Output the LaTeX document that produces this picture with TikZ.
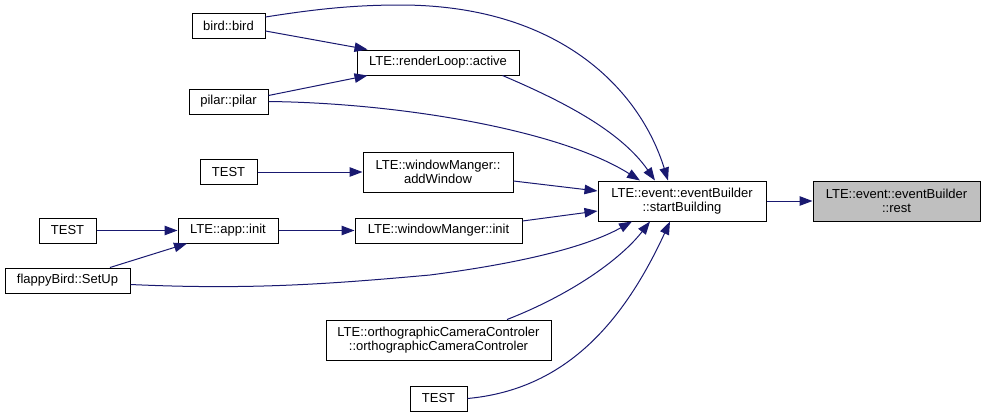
\documentclass[tikz,border=0pt]{standalone}
\usepackage{fontspec}
\setmainfont{Liberation Sans}
\usetikzlibrary{arrows.meta}
\definecolor{edgec}{HTML}{191970}
\definecolor{restc}{HTML}{BFBFBF}
\begin{document}
\begin{tikzpicture}[x=1pt,y=-1pt,
  box/.style={draw=black, line width=1pt, fill=white, inner sep=0pt,
    minimum height=25pt, font=\fontsize{13}{14}\selectfont, align=center},
  tall/.style={minimum height=40pt},
  edge/.style={draw=edgec, line width=1pt, -{Triangle[length=13pt,width=9.5pt]}}]
\useasboundingbox (0,0) rectangle (985,418);
% nodes
\node[box, minimum width=73pt] (bird) at (228.5,25.5) {bird::bird};
\node[box, minimum width=79pt] (pilar) at (228.5,101.5) {pilar::pilar};
\node[box, minimum width=162pt] (active) at (438,62.5) {LTE::renderLoop::active};
\node[box, minimum width=57pt] (testa) at (228.5,172) {TEST};
\node[box, tall, minimum width=150pt] (addw) at (438,172) {LTE::windowManger::\\addWindow};
\node[box, minimum width=57pt] (testb) at (67.5,230.5) {TEST};
\node[box, minimum width=100pt] (app) at (228,230.5) {LTE::app::init};
\node[box, minimum width=167pt] (wminit) at (438.5,230.5) {LTE::windowManger::init};
\node[box, minimum width=125pt] (flappy) at (67.5,280.5) {flappyBird::SetUp};
\node[box, tall, minimum width=168pt] (sb) at (682,201) {LTE::event::eventBuilder\\::startBuilding};
\node[box, tall, minimum width=167pt, fill=restc] (rest) at (896.5,201) {LTE::event::eventBuilder\\::rest};
\node[box, tall, minimum width=225pt] (ortho) at (438.5,340) {LTE::orthographicCameraControler\\::orthographicCameraControler};
\node[box, minimum width=57pt] (testc) at (438.5,398.5) {TEST};
% edges
\draw[edge] ([yshift=-5.5pt]bird.east) -- ([xshift=11pt]active.north west);
\draw[edge] ([yshift=6pt]pilar.east) -- ([xshift=11pt]active.south west);
\draw[edge] ([yshift=8.5pt]bird.east) .. controls (310,10) and (350,5) .. (400,5)
  .. controls (560,5) and (640,90) .. ([xshift=-14pt]sb.north);
\draw[edge] ([xshift=-17pt]active.south east) .. controls (560,100) and (620,130) .. ([xshift=-27pt]sb.north);
\draw[edge] (pilar.east) .. controls (400,103) and (560,130) .. ([xshift=-42pt]sb.north);
\draw[edge] (testa) -- (addw);
\draw[edge] ([yshift=-9pt]addw.east) -- ([yshift=10pt]sb.west);
\draw[edge] (testb) -- (app);
\draw[edge] (app) -- (wminit);
\draw[edge] ([yshift=9.5pt]wminit.east) -- ([yshift=-10pt]sb.west);
\draw[edge] ([xshift=42.5pt]flappy.north) -- ([xshift=-41pt]app.south);
\draw[edge] ([yshift=-4pt]flappy.east) .. controls (250,290) and (330,284) .. (430,275)
  .. controls (530,262) and (590,245) .. ([xshift=-50pt]sb.south);
\draw[edge] ([xshift=68.5pt]ortho.north) .. controls (570,295) and (620,260) .. ([xshift=-32pt]sb.south);
\draw[edge] (testc.east) .. controls (560,390) and (620,330) .. ([xshift=-12pt]sb.south);
\draw[edge] (sb) -- (rest);
\end{tikzpicture}
\end{document}
